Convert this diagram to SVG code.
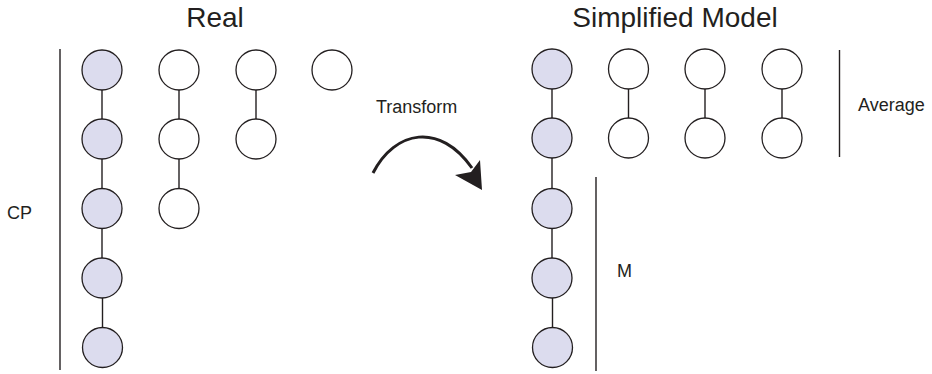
<svg xmlns="http://www.w3.org/2000/svg" width="932" height="374" viewBox="0 0 932 374">
<style>
.c{stroke:#231f20;stroke-width:1.3;fill:#ffffff}
.f{fill:#dcdcee}
.ln{stroke:#231f20;stroke-width:1.4;fill:none}
.t{font-family:"Liberation Sans",Arial,sans-serif;fill:#231f20}
.h{font-size:28px}
.s{font-size:18px}
</style>
<rect width="932" height="374" fill="#ffffff"/>
<g id="titles">
<text class="t h" x="215" y="27.3" text-anchor="middle">Real</text>
<text class="t h" x="675" y="27.3" text-anchor="middle">Simplified Model</text>
</g>
<g id="labels">
<text class="t s" x="7" y="219">CP</text>
<text class="t s" x="376" y="113">Transform</text>
<text class="t s" x="858" y="111">Average</text>
<text class="t s" x="617" y="276.5">M</text>
</g>
<g id="brackets">
<line class="ln" x1="60" y1="49" x2="60" y2="370"/>
<line class="ln" x1="839.5" y1="50" x2="839.5" y2="157"/>
<line class="ln" x1="596" y1="177" x2="596" y2="371"/>
</g>
<g id="connectors">
<line class="ln" x1="102" y1="90" x2="102" y2="119"/>
<line class="ln" x1="102" y1="159" x2="102" y2="188.5"/>
<line class="ln" x1="102" y1="228.5" x2="102" y2="258"/>
<line class="ln" x1="102.5" y1="298" x2="102.5" y2="327.5"/>
<line class="ln" x1="179" y1="90" x2="179" y2="119"/>
<line class="ln" x1="179" y1="159" x2="179" y2="188.5"/>
<line class="ln" x1="256" y1="90" x2="256" y2="119"/>
<line class="ln" x1="552" y1="89" x2="552" y2="118"/>
<line class="ln" x1="552" y1="158" x2="552" y2="188.5"/>
<line class="ln" x1="552" y1="228.5" x2="552" y2="258"/>
<line class="ln" x1="552.5" y1="298" x2="552.5" y2="327.5"/>
<line class="ln" x1="628.5" y1="89" x2="628.5" y2="118"/>
<line class="ln" x1="705" y1="89" x2="705" y2="118"/>
<line class="ln" x1="782" y1="89" x2="782" y2="118"/>
<path d="M373,173 C395,130 440,122 472,168" stroke="#231f20" stroke-width="3" fill="none"/>
<polygon points="482,190 455,175 471,172 480,160" fill="#231f20"/>
</g>
<g id="real-cp-1"><circle class="c f" cx="102" cy="70" r="20"/></g>
<g id="real-cp-2"><circle class="c f" cx="102" cy="139" r="20"/></g>
<g id="real-cp-3"><circle class="c f" cx="102" cy="208.5" r="20"/></g>
<g id="real-cp-4"><circle class="c f" cx="102" cy="278" r="20"/></g>
<g id="real-cp-5"><circle class="c f" cx="102.5" cy="347.5" r="20"/></g>
<g id="real-b-1"><circle class="c" cx="179" cy="70" r="20"/></g>
<g id="real-b-2"><circle class="c" cx="179" cy="139" r="20"/></g>
<g id="real-b-3"><circle class="c" cx="179" cy="208.5" r="20"/></g>
<g id="real-c-1"><circle class="c" cx="256" cy="70" r="20"/></g>
<g id="real-c-2"><circle class="c" cx="256" cy="139" r="20"/></g>
<g id="real-d-1"><circle class="c" cx="332" cy="70" r="20"/></g>
<g id="sim-m-1"><circle class="c f" cx="552" cy="69" r="20"/></g>
<g id="sim-m-2"><circle class="c f" cx="552" cy="138" r="20"/></g>
<g id="sim-m-3"><circle class="c f" cx="552" cy="208.5" r="20"/></g>
<g id="sim-m-4"><circle class="c f" cx="552" cy="278" r="20"/></g>
<g id="sim-m-5"><circle class="c f" cx="552.5" cy="347.5" r="20"/></g>
<g id="sim-b-1"><circle class="c" cx="628.5" cy="69" r="20"/></g>
<g id="sim-b-2"><circle class="c" cx="628.5" cy="138" r="20"/></g>
<g id="sim-c-1"><circle class="c" cx="705" cy="69" r="20"/></g>
<g id="sim-c-2"><circle class="c" cx="705" cy="138" r="20"/></g>
<g id="sim-d-1"><circle class="c" cx="782" cy="69" r="20"/></g>
<g id="sim-d-2"><circle class="c" cx="782" cy="138" r="20"/></g>
</svg>
